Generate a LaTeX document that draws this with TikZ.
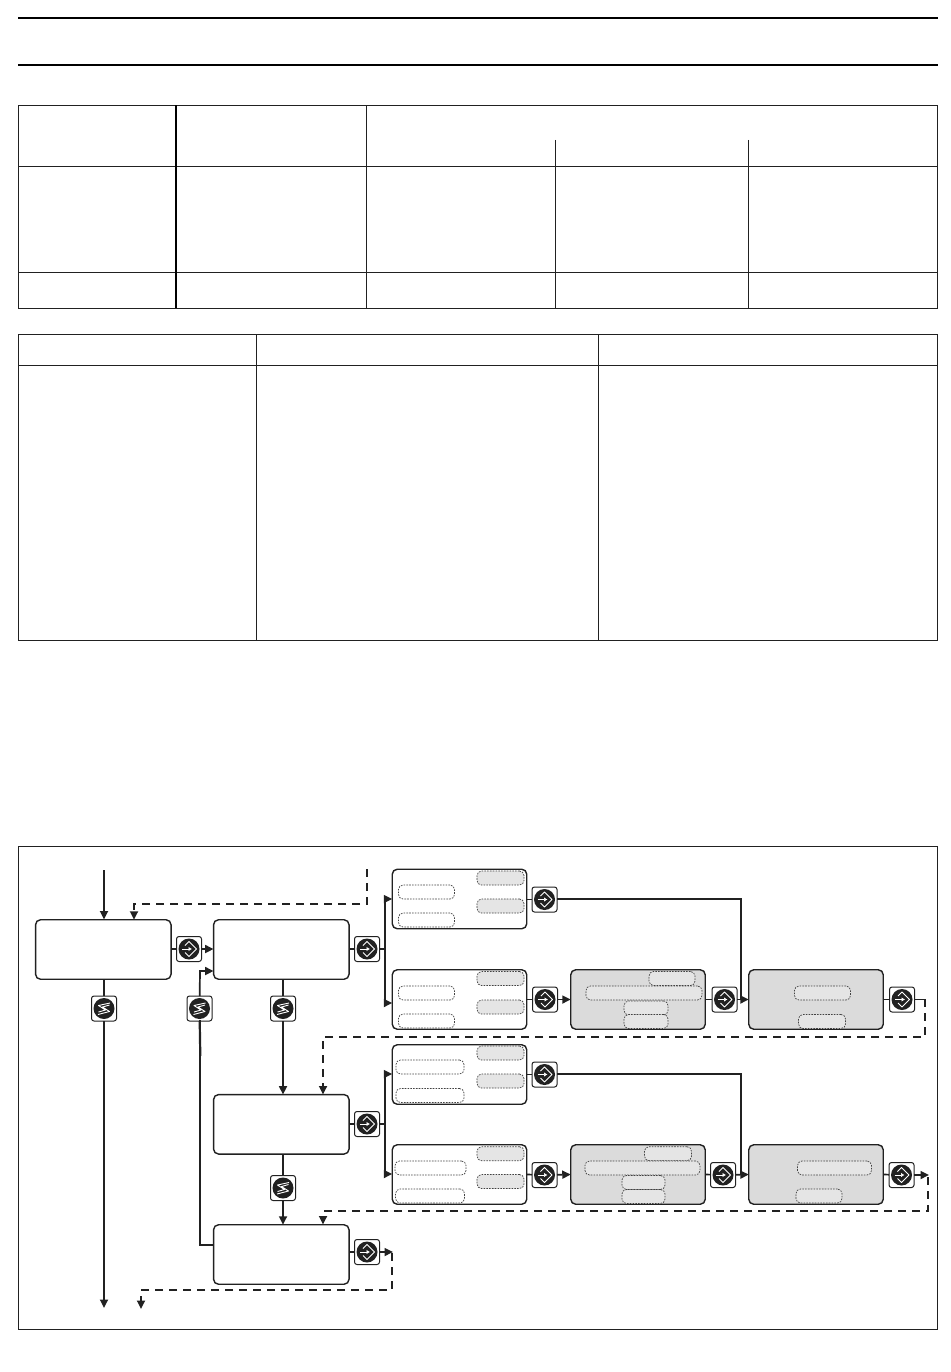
\documentclass[tikz,border=0pt]{standalone}
\usetikzlibrary{arrows.meta,calc}
\definecolor{ink}{gray}{0.13}
\definecolor{panel}{gray}{0.86}
\definecolor{chip}{gray}{0.9}
\tikzset{
  x=1pt,y=-1pt,
  every node/.style={inner sep=0pt,outer sep=0pt},
  tbl/.style={draw=ink,line width=1pt},
  rule/.style={draw=black,line width=2pt},
  bx/.style={draw=ink,line width=1.4pt,rounded corners=5pt,fill=white,minimum width=135.5pt,minimum height=59.5pt},
  sbx/.style={draw=ink,line width=1.4pt,rounded corners=5pt,fill=white,minimum width=134.5pt,minimum height=59.5pt},
  gbx/.style={sbx,fill=panel},
  slot/.style={draw=ink!85,dash pattern=on 1.6pt off 1.2pt,line width=.7pt,rounded corners=4.5pt,fill=white,minimum height=14pt},
  gslot/.style={slot,fill=chip},
  key/.style={draw=ink,line width=1pt,rounded corners=2.5pt,fill=white,minimum width=25pt,minimum height=25pt},
  flow/.style={draw=ink,line width=1.7pt},
  arr/.style={flow,-{Triangle[length=8.5pt,width=8pt]}},
  dflow/.style={draw=ink,line width=1.7pt,dash pattern=on 8pt off 6pt},
  darr/.style={dflow,-{Triangle[length=8.5pt,width=8pt]}},
}
% enter key: #1 name, #2 position
\newcommand{\enterkey}[2]{%
  \node[key] (#1) at (#2) {};
  \fill[ink] (#1) circle (10.5pt);
  \draw[white,line width=1pt,line join=round]
    ($(#1)+(-4,3.5)$) -- ($(#1)+(0,7.5)$) -- ($(#1)+(7.5,0)$) -- ($(#1)+(0,-7.5)$) -- ($(#1)+(-4,-3.5)$);
  \draw[white,line width=1pt,-{Latex[length=3.5pt,width=4.5pt]}] ($(#1)+(-7,0)$) -- ($(#1)+(3,0)$);
}
% scroll key
\newcommand{\scrollkey}[2]{%
  \node[key] (#1) at (#2) {};
  \fill[ink] (#1) circle (10.5pt);
  \draw[white,line width=.9pt,line join=round]
    ($(#1)+(6,-5.5)$) -- ($(#1)+(-5.5,-3)$) -- ($(#1)+(1.5,1.5)$) -- ($(#1)+(-5.5,3.5)$)
    ($(#1)+(5.5,-3.5)$) -- ($(#1)+(-1.5,-1.5)$) -- ($(#1)+(5.5,3)$) -- ($(#1)+(-6,6)$);
}
\begin{document}
\begin{tikzpicture}
\useasboundingbox (0,0) rectangle (950,1372);
% header rules
\coordinate (hl1) at (18,18); \coordinate (hr1) at (938,18);
\coordinate (hl2) at (18,65); \coordinate (hr2) at (938,65);
\draw[rule] (hl1) -- (hr1);
\draw[rule] (hl2) -- (hr2);
% table 1
\draw[tbl] (18.5,106) rectangle (937.7,308);
\draw[tbl] (18.5,167) -- (938,167);
\draw[tbl] (18.5,272) -- (938,272);
\draw[draw=black,line width=1.9pt] (176,105.5) -- (176,308);
\draw[tbl] (366,105.5) -- (366,308);
\draw[tbl] (555.3,140) -- (555.3,308);
\draw[tbl] (748.3,140) -- (748.3,308);
% table 2
\draw[tbl] (18.5,334.5) rectangle (937.7,640.5);
\draw[tbl] (18.5,365.3) -- (938,365.3);
\draw[tbl] (256.5,334.5) -- (256.5,640.5);
\draw[tbl] (598.5,334.5) -- (598.5,640.5);
% frame
\draw[tbl] (18.5,846.5) rectangle (937.7,1329);

% main boxes
\node[bx] (A) at (103.3,949.5) {};
\node[bx] (B) at (281.3,949.5) {};
\node[bx] (C) at (281.3,1124.3) {};
\node[bx] (D) at (281.3,1254.5) {};

% option boxes upper
\node[sbx] (U1) at (459.5,899) {};
\node[sbx] (U2) at (459.5,999.5) {};
\node[gbx] (U3) at (638,999.5) {};
\node[gbx] (U4) at (816,999.5) {};
% option boxes lower
\node[sbx] (L1) at (459.5,1074.5) {};
\node[sbx] (L2) at (459.5,1174.5) {};
\node[gbx] (L3) at (638,1174.5) {};
\node[gbx] (L4) at (816,1174.5) {};

% slots upper
\node[slot,minimum width=56pt] (s1) at (426.5,892) {};
\node[slot,minimum width=56pt] (s2) at (426.5,920) {};
\node[gslot,minimum width=47pt] (s3) at (500.5,878) {};
\node[gslot,minimum width=47pt] (s4) at (500.5,906) {};
\node[slot,minimum width=56pt] (s5) at (426.5,993) {};
\node[slot,minimum width=56pt] (s6) at (426.5,1021) {};
\node[gslot,minimum width=47pt] (s7) at (500.5,978.5) {};
\node[gslot,minimum width=47pt] (s8) at (500.5,1007) {};
\node[gslot,minimum width=46pt] (s9) at (672,978.5) {};
\node[gslot,minimum width=116pt] (s10) at (644,993) {};
\node[gslot,minimum width=44pt] (s11) at (646,1008) {};
\node[gslot,minimum width=44pt] (s12) at (646,1021.5) {};
\node[gslot,minimum width=56pt] (s13) at (822.5,993) {};
\node[gslot,minimum width=47pt] (s14) at (822,1021.5) {};
% slots lower
\node[slot,minimum width=68pt] (t1) at (430,1067) {};
\node[slot,minimum width=68pt] (t2) at (430,1095.5) {};
\node[gslot,minimum width=47pt] (t3) at (500.5,1053) {};
\node[gslot,minimum width=47pt] (t4) at (500.5,1081) {};
\node[slot,minimum width=71pt] (t5) at (430.5,1168) {};
\node[slot,minimum width=69pt] (t6) at (430,1196) {};
\node[gslot,minimum width=47pt] (t7) at (500.5,1153.7) {};
\node[gslot,minimum width=47pt] (t8) at (500.5,1181.5) {};
\node[gslot,minimum width=47pt] (t9) at (668,1153.7) {};
\node[gslot,minimum width=115pt] (t10) at (642.5,1168) {};
\node[gslot,minimum width=43pt] (t11) at (643.5,1182.5) {};
\node[gslot,minimum width=43pt] (t12) at (643.5,1196.5) {};
\node[gslot,minimum width=74pt] (t13) at (834.5,1168) {};
\node[gslot,minimum width=46pt] (t14) at (819,1196) {};

% keys
\enterkey{eA}{189,949}
\enterkey{eB}{367,949}
\enterkey{eC}{367,1124}
\enterkey{eD}{367,1252}
\enterkey{eU1}{544.5,899.5}
\enterkey{eU2}{545,999.5}
\enterkey{eU3}{724.5,999.5}
\enterkey{eU4}{902,999.5}
\enterkey{eL1}{544.5,1074.5}
\enterkey{eL2}{544.5,1175}
\enterkey{eL3}{723,1175}
\enterkey{eL4}{901.5,1175}
\scrollkey{sA}{104,1008.5}
\scrollkey{sB}{199.5,1008.5}
\scrollkey{sC}{283,1008.5}
\scrollkey{sD}{283,1188}

% named junctions
\coordinate (jB) at (385,949);
\coordinate (jC) at (385,1124);
\coordinate (in) at (104,870);
\coordinate (exit1) at (104,1308);
\coordinate (exit2) at (141,1309);

% solid connectors
\draw[arr] (in) -- (104,919.5);
\draw[flow] (A.east |- eA) -- (eA);
\draw[arr] (eA) -- (B.west |- eA);
\draw[flow] (104,980) -- (sA);
\draw[arr] (sA) -- (exit1);
\draw[flow] (D.west |- 0,1245) -- (200,1245) -- (200,1020);
\draw[draw=ink,line width=2.2pt] (sB) -- (200.3,1056);
\draw[arr] (sB) -- (200,971) -- (B.west |- 0,971);
\draw[flow] (B.south -| sC) -- (sC);
\draw[arr] (sC) -- (C.north -| sC);
\draw[flow] (C.south -| sD) -- (sD);
\draw[arr] (sD) -- (D.north -| sD);
\draw[flow] (B.east |- eB) -- (eB);
\draw[flow] (eB) -- (jB);
\draw[flow] (C.east |- eC) -- (eC);
\draw[flow] (eC) -- (jC);
\draw[arr] (jB) -- (385,899) -- (U1.west);
\draw[arr] (jB) -- (385,1003) -- (U2.west |- 0,1003);
\draw[arr] (jC) -- (385,1074) -- (L1.west |- 0,1074);
\draw[arr] (jC) -- (385,1174) -- (L2.west |- 0,1174);
\draw[flow] (U1.east |- eU1) -- (eU1);
\draw[flow,line width=2pt] (eU1.east |- 0,899) -- (741,899) -- (741,999);
\draw[flow] (U2.east) -- (eU2);
\draw[arr] (eU2) -- (U3.west);
\draw[flow] (U3.east) -- (eU3);
\draw[arr] (eU3) -- (U4.west);
\draw[flow] (U4.east) -- (eU4);
\draw[flow] (L1.east) -- (eL1);
\draw[flow,line width=1.4pt] (eL1.east |- 0,1074) -- (741,1074) -- (741,1175);
\draw[flow] (L2.east) -- (eL2);
\draw[arr] (eL2) -- (L3.west);
\draw[flow] (L3.east) -- (eL3);
\draw[arr] (eL3) -- (L4.west);
\draw[flow] (L4.east) -- (eL4);
\draw[flow] (D.east |- eD) -- (eD);
\draw[arr] (eD) -- (393,1252);
\draw[arr] (eL4) -- (929,1175);

% dashed connectors
\coordinate (d1) at (367,869);
\draw[darr] (d1) -- (367,904) -- (134,904) -- (A.north -| 134,0);
\draw[flow] (eU4) -- (925,999.5);
\draw[darr] (925,999) -- (925,1037) -- (323,1037) -- (323,1094.5);
\draw[darr] (928,1177) -- (928,1211) -- (323,1211) -- (323,1224.5);
\draw[darr] (392,1253) -- (392,1290) -- (141,1290) -- (exit2);
\end{tikzpicture}
\end{document}
